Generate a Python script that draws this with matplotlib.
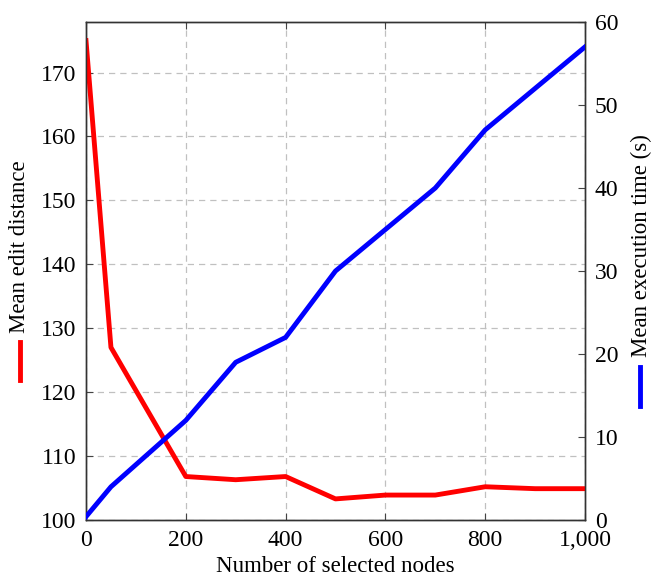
import matplotlib
matplotlib.use("Agg")
import matplotlib.pyplot as plt
from matplotlib.lines import Line2D
from matplotlib.ticker import FuncFormatter

plt.rcParams['font.family'] = ['Liberation Serif', 'DejaVu Serif']
plt.rcParams['mathtext.fontset'] = 'stix'

nodes = [0, 50, 200, 300, 400, 500, 600, 700, 800, 900, 1000]
edit_distance = [175, 127, 106.8, 106.3, 106.8, 103.3, 103.9, 103.9, 105.2, 104.9, 104.9]
exec_time = [0.4, 4.0, 12, 19, 22, 30, 35, 40, 47, 52, 57]

x_ticks = [0, 200, 400, 600, 800, 1000]
left_ticks = [100, 110, 120, 130, 140, 150, 160, 170]
right_ticks = [0, 10, 20, 30, 40, 50, 60]

fig = plt.figure(figsize=(6.54, 5.81), dpi=100)
ax = fig.add_axes([86/654, 1-520/581, (585-86)/654, (520-22)/581])
ax2 = ax.twinx()

ax.plot(nodes, edit_distance, color='#ff0000', lw=3.5, solid_joinstyle='round', zorder=3)
ax2.plot(nodes, exec_time, color='#0000ff', lw=3.5, solid_joinstyle='round', zorder=3)

ax.set_xlim(0, 1000)
ax.set_ylim(100, 177.9)
ax2.set_ylim(0, 60)

ax.set_xticks(x_ticks)
ax.xaxis.set_major_formatter(FuncFormatter(lambda v, p: f"{int(v):,}"))
ax.set_yticks(left_ticks)
ax2.set_yticks(right_ticks)

ax.grid(True, color='#c0c0c0', linestyle=(0, (5, 4)), lw=0.9)
ax.set_axisbelow(True)

for a in (ax, ax2):
    for s in a.spines.values():
        s.set_color('#333333')
        s.set_linewidth(1.0)

ax.tick_params(axis='both', direction='in', length=5, width=0.8, colors='#444444',
               labelcolor='black', labelsize=17, top=True, right=False)
ax.tick_params(axis='y', pad=7)
ax.tick_params(axis='x', pad=7)
ax2.tick_params(axis='y', direction='in', length=5, width=0.8, colors='#444444',
                labelcolor='black', labelsize=17, pad=7)

ax.set_xlabel('Number of selected nodes', fontsize=16.5, labelpad=4)

# Left ylabel with legend line
fig.text(20/654, 1-247/581, 'Mean edit distance', rotation=90, fontsize=16.5,
         ha='center', va='center')
fig.add_artist(Line2D([20/654, 20/654], [1-342/581, 1-380/581], color='#ff0000', lw=3.5))

# Right ylabel with legend line
fig.text(641/654, 1-246/581, 'Mean execution time (s)', rotation=90, fontsize=16.5,
         ha='center', va='center')
fig.add_artist(Line2D([640/654, 640/654], [1-367/581, 1-406/581], color='#0000ff', lw=3.5))

fig.savefig('out.png', dpi=100)
